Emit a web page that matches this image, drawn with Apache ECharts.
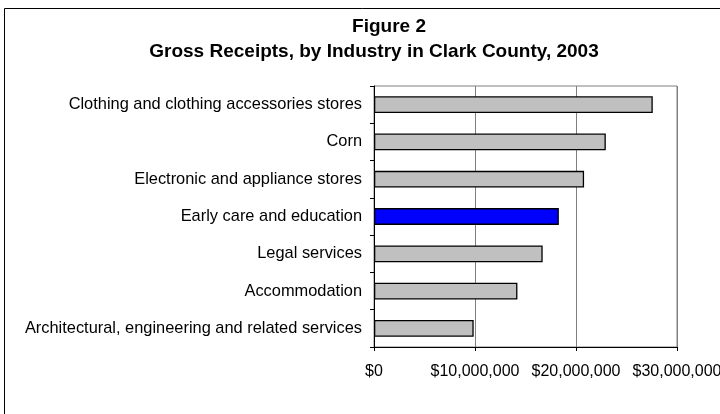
<!DOCTYPE html>
<html><head><meta charset="utf-8">
<script src="https://cdn.jsdelivr.net/npm/echarts@6/dist/echarts.min.js"></script>
<style>html,body{margin:0;padding:0;background:#fff}#c{width:720px;height:414px}</style>
</head><body><div id="c"></div>
<script>
const categories = [
  "Clothing and clothing accessories stores",
  "Corn",
  "Electronic and appliance stores",
  "Early care and education",
  "Legal services",
  "Accommodation",
  "Architectural, engineering and related services"
];
const values = [27600000, 22950000, 20800000, 18300000, 16700000, 14200000, 9870000];
const highlight = "Early care and education";
const xTicks = [0, 10000000, 20000000, 30000000];
const titleLine1 = 'Figure 2';
const titleLine2 = 'Gross Receipts, by Industry in Clark County, 2003';

const chart = echarts.init(document.getElementById('c'), null, {renderer: 'canvas'});
const font = '"Liberation Sans", Arial, sans-serif';
const tStyle = {fontFamily: font, fontSize: 19, fontWeight: 'bold', color: '#000'};
chart.setOption({
  animation: false,
  backgroundColor: '#fff',
  graphic: [{
    type: 'rect', shape: {x: 4.5, y: 8.5, width: 800, height: 500},
    style: {fill: 'none', stroke: '#000', lineWidth: 1}, silent: true, z: -1
  }],
  title: [
    {text: titleLine1, left: 389, top: 17, textAlign: 'center', padding: 0, textStyle: tStyle},
    {text: titleLine2, left: 374, top: 42, textAlign: 'center', padding: 0, textStyle: tStyle}
  ],
  grid: {left: 374, right: 43, top: 86, bottom: 67, outerBoundsMode: 'none', containLabel: false,
    show: true, borderColor: '#808080', borderWidth: 1, backgroundColor: 'transparent'},
  xAxis: {
    type: 'value', min: 0, max: 30000000, interval: 10000000,
    axisLine: {show: true, lineStyle: {color: '#000'}},
    axisTick: {show: true, length: 4, lineStyle: {color: '#000'}},
    splitLine: {show: true, lineStyle: {color: '#808080'}},
    axisLabel: {fontFamily: font, fontSize: 16, color: '#000', margin: 17, hideOverlap: false,
      formatter: v => xTicks.includes(v) ? '$' + v.toLocaleString('en-US') : ''}
  },
  yAxis: {
    type: 'category', data: categories, inverse: true,
    axisLine: {show: true, lineStyle: {color: '#000'}},
    axisTick: {show: true, length: 4, alignWithLabel: false, lineStyle: {color: '#000'}},
    axisLabel: {fontFamily: font, fontSize: 16.4, color: '#000', margin: 12}
  },
  series: [{
    type: 'bar',
    barWidth: '45%',
    data: values.map((v, i) => ({
      value: v,
      itemStyle: {color: categories[i] === highlight ? '#0000FF' : '#C0C0C0', borderColor: '#000', borderWidth: 1.3}
    }))
  }]
});
</script></body></html>
